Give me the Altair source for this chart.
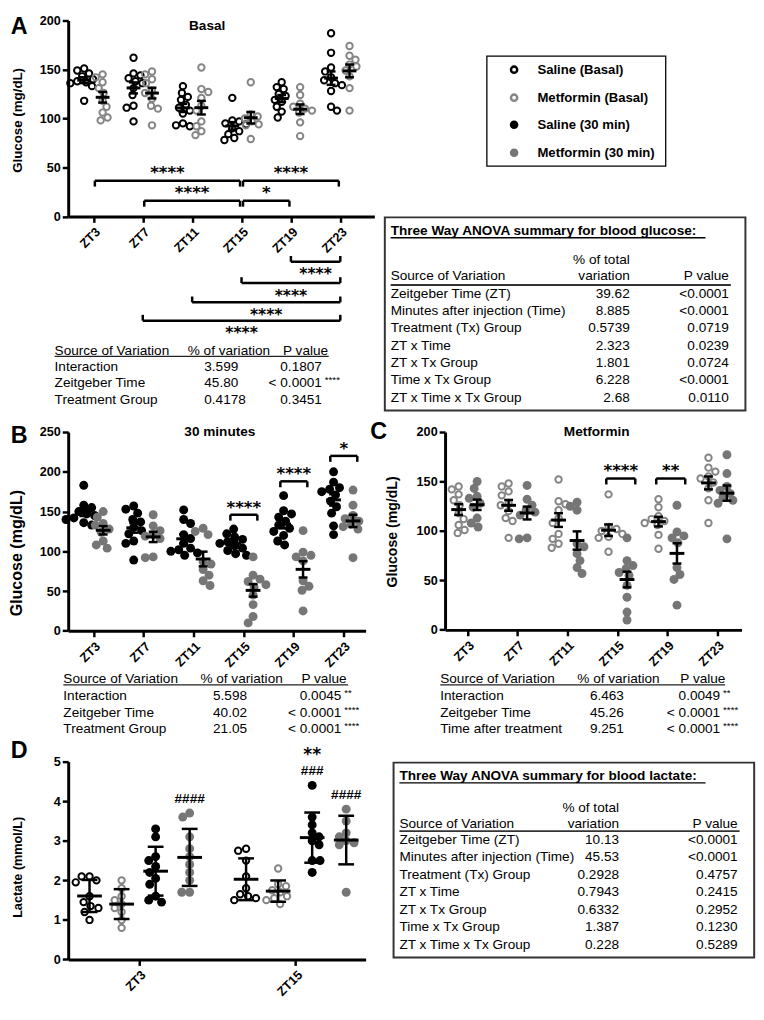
import math
import altair as alt
import pandas as pd

FONT = "Liberation Sans"
STAR_FONT = "DejaVu Sans"
BLACK = "#000000"
GRAY_FILL = "#767676"
GRAY_OPEN = "#858585"

# ---------------- categories ----------------
zt_glucose = ["ZT3", "ZT7", "ZT11", "ZT15", "ZT19", "ZT23"]
zt_lactate = ["ZT3", "ZT15"]
groups = ["Saline (Basal)", "Metformin (Basal)", "Saline (30 min)", "Metformin (30 min)"]
group_colors = [BLACK, GRAY_OPEN, BLACK, GRAY_FILL]

# ---------------- blood glucose (mg/dL), one list per ZT ----------------
glucose_saline_basal = [
    [151, 149, 146, 143, 140, 138, 137, 136, 133, 118],
    [162, 146, 144, 141, 138, 136, 131, 124, 113, 111, 97],
    [133, 126, 122, 119, 114, 111, 108, 105, 95, 93, 92],
    [121, 98, 97, 95, 94, 90, 87, 84, 80, 78],
    [137, 132, 130, 125, 123, 119, 117, 112, 107, 101],
    [187, 167, 152, 148, 142, 139, 136, 134, 128, 112, 108],
]
glucose_metformin_basal = [
    [145, 142, 137, 131, 126, 118, 112, 106, 101, 98],
    [148, 145, 140, 136, 128, 126, 120, 113, 110, 93],
    [152, 130, 127, 121, 113, 108, 97, 92, 87, 83],
    [137, 104, 102, 100, 97, 94, 93, 79],
    [132, 124, 115, 112, 110, 108, 106, 96, 82],
    [174, 164, 160, 155, 153, 149, 143, 131, 108],
]
glucose_saline_30 = [
    [183, 158, 155, 150, 147, 145, 142, 140, 136, 133],
    [157, 153, 148, 140, 137, 130, 126, 122, 113, 110, 89],
    [152, 140, 135, 121, 116, 110, 104, 102, 100, 98, 95],
    [128, 122, 118, 115, 112, 110, 107, 104, 101, 97, 95],
    [170, 151, 147, 143, 138, 133, 129, 125, 120, 113, 108],
    [200, 187, 180, 178, 175, 171, 163, 156, 148, 132, 121],
]
glucose_metformin_30 = [
    [150, 143, 135, 133, 128, 124, 113, 108, 104],
    [146, 132, 126, 121, 119, 116, 93, 92],
    [129, 125, 121, 87, 84, 77, 70, 63, 57],
    [93, 70, 65, 62, 58, 55, 45, 33, 18, 10],
    [126, 99, 95, 93, 88, 63, 56, 51, 25],
    [177, 158, 145, 141, 138, 134, 131, 128, 92],
]

# ---------------- blood lactate (mmol/L), ZT3 and ZT15 ----------------
lactate_saline_basal = [
    [2.1, 2.1, 2.0, 1.95, 1.6, 1.45, 1.35, 1.3, 1.2, 1.0],
    [2.8, 2.75, 2.5, 2.1, 1.8, 1.65, 1.6, 1.55, 1.5],
]
lactate_metformin_basal = [
    [2.0, 1.8, 1.6, 1.5, 1.4, 1.3, 1.2, 1.0, 0.8],
    [2.3, 1.9, 1.85, 1.75, 1.7, 1.6, 1.55, 1.5, 1.4],
]
lactate_saline_30 = [
    [3.3, 3.1, 2.6, 2.5, 2.35, 2.2, 2.05, 1.9, 1.6, 1.5, 1.45],
    [4.4, 3.6, 3.4, 3.2, 3.1, 3.0, 2.9, 2.5, 2.5, 2.2],
]
lactate_metformin_30 = [
    [3.7, 3.6, 3.1, 2.8, 2.6, 2.4, 2.2, 2.0, 1.7, 1.7],
    [3.8, 3.5, 3.2, 3.1, 3.0, 2.95, 2.9, 1.7],
]

# ---------------- significance annotations ----------------
sig_basal_within = [("ZT3", "ZT15", 36.5, "****"), ("ZT15", "ZT23", 36.5, "****"),
                    ("ZT7", "ZT15", 16, "****"), ("ZT15", "ZT19", 16, "*")]
sig_basal_vs_zt23 = [("ZT19", "****"), ("ZT15", "****"), ("ZT11", "****"), ("ZT7", "****")]
sig_30min = [("ZT15", 146, "****"), ("ZT19", 188, "****"), ("ZT23", 220, "*")]
sig_metformin = [("ZT15", 153, "****"), ("ZT19", 153, "**")]
sig_lactate = [("ZT3", "Metformin (30 min)", "####"), ("ZT15", "Saline (30 min)", "###"),
               ("ZT15", "Saline (30 min)", "**"), ("ZT15", "Metformin (30 min)", "####")]

# ---------------- ANOVA tables ----------------
basal_src = ["Interaction", "Zeitgeber Time", "Treatment Group"]
basal_pct = ["3.599", "45.80", "0.4178"]
basal_p = ["0.1807", "< 0.0001", "0.3451"]
basal_sig = ["", "****", ""]
min30_src = ["Interaction", "Zeitgeber Time", "Treatment Group"]
min30_pct = ["5.598", "40.02", "21.05"]
min30_p = ["0.0045", "< 0.0001", "< 0.0001"]
min30_sig = ["**", "****", "****"]
metf_src = ["Interaction", "Zeitgeber Time", "Time after treatment"]
metf_pct = ["6.463", "45.26", "9.251"]
metf_p = ["0.0049", "< 0.0001", "< 0.0001"]
metf_sig = ["**", "****", "****"]
three_way_src = ["Zeitgeber Time (ZT)", "Minutes after injection (Time)", "Treatment (Tx) Group",
                 "ZT x Time", "ZT x Tx Group", "Time x Tx Group", "ZT x Time x Tx Group"]
glucose3_pct = ["39.62", "8.885", "0.5739", "2.323", "1.801", "6.228", "2.68"]
glucose3_p = ["<0.0001", "<0.0001", "0.0719", "0.0239", "0.0724", "<0.0001", "0.0110"]
lactate3_pct = ["10.13", "45.53", "0.2928", "0.7943", "0.6332", "1.387", "0.228"]
lactate3_p = ["<0.0001", "<0.0001", "0.4757", "0.2415", "0.2952", "0.1230", "0.5289"]

# ---------------- layout (reference-image pixel coordinates, shrunk to fit the page) ----------------
SX, SY = 0.985, 0.978          # whole figure is compressed slightly so it fits the page
FS = 0.985                     # font scale
COLGAP, ROWGAP = 72, 135
PANEL = {
    "A": dict(left=62, top=6, W=315, H=203, xdom=[-0.51, 5.69], ydom=[0, 200]),
    "B": dict(left=62, top=432, W=306, H=206, xdom=[-0.506, 5.447], ydom=[0, 250]),
    "C": dict(left=440, top=432, W=305, H=205, xdom=[-0.447, 5.487], ydom=[0, 200]),
    "D": dict(left=62, top=773, W=306, H=205, xdom=[-0.453, 1.447], ydom=[0, 5]),
}
PANEL["R1"] = dict(left=62 + 315 + COLGAP, top=6, W=300, H=291)
PANEL["R3"] = dict(left=62 + 306 + COLGAP, top=773, W=300, H=205)


def f(s):
    return round(s * FS, 2)


def ax_scale(p):
    return alt.Scale(domain=[p["left"], p["left"] + 1000], range=[0, 1000 * SX])


def ay_scale(p):
    return alt.Scale(domain=[p["top"], p["top"] + 1000], range=[0, 1000 * SY])


def texts(p, rows, align="left", size=14, weight="normal", font=FONT, dy=0, color=BLACK):
    df = pd.DataFrame(rows, columns=["px", "py", "text"])
    return alt.Chart(df).mark_text(align=align, baseline="middle", font=font, fontSize=f(size),
                                   fontWeight=weight, color=color, dy=dy).encode(
        x=alt.X("px:Q", scale=ax_scale(p), axis=None),
        y=alt.Y("py:Q", scale=ay_scale(p), axis=None),
        text="text:N")


def hrules(p, rows, width=1.0, color=BLACK):
    df = pd.DataFrame(rows, columns=["px", "px2", "py"])
    return alt.Chart(df).mark_rule(color=color, strokeWidth=width).encode(
        x=alt.X("px:Q", scale=ax_scale(p), axis=None), x2="px2:Q",
        y=alt.Y("py:Q", scale=ay_scale(p), axis=None))


def box(p, x1, x2, y1, y2, width, color):
    df = pd.DataFrame([dict(px=x1, px2=x2, py=y1, py2=y2)])
    return alt.Chart(df).mark_rect(fillOpacity=0, stroke=color, strokeWidth=width).encode(
        x=alt.X("px:Q", scale=ax_scale(p), axis=None), x2="px2:Q",
        y=alt.Y("py:Q", scale=ay_scale(p), axis=None), y2="py2:Q")


def swarm(vals, ppy, diam, step=1.0):
    order = sorted(range(len(vals)), key=lambda k: -vals[k])
    placed, res = [], [0.0] * len(vals)
    for n, k in enumerate(order):
        y = vals[k] * ppy
        sgn = 1 if n % 2 == 0 else -1
        j = 0
        while True:
            if j == 0:
                c = 0.0
            else:
                mag = ((j + 1) // 2) * step
                c = mag * sgn if j % 2 == 1 else -mag * sgn
            if all((c - px) ** 2 + (y - py) ** 2 >= diam ** 2 for px, py in placed):
                break
            j += 1
        placed.append((c, y))
        res[k] = c
    return res


def mean_err(vals, kind):
    n = len(vals)
    m = sum(vals) / n
    sd = math.sqrt(sum((v - m) ** 2 for v in vals) / (n - 1))
    return m, (sd if kind == "sd" else sd / math.sqrt(n))


def color_scale():
    return alt.Scale(domain=groups, range=group_colors)


def xaxis_zt(labels):
    expr = "[" + ",".join("'" + l + "'" for l in labels) + "][datum.value]"
    return alt.Axis(values=list(range(len(labels))), labelExpr=expr, labelAngle=315,
                    labelAlign="right", labelBaseline="top", labelFont=FONT, labelFontSize=f(13),
                    labelFontWeight="bold", labelColor=BLACK, labelPadding=3, labelOverlap=False,
                    labelFlush=False, tickSize=6, tickWidth=2.5, tickColor=BLACK,
                    domainColor=BLACK, domainWidth=3, grid=False, title=None)


def yaxis(vals, title, tx, ty, tsize):
    return alt.Axis(values=vals, title=title, titleX=tx * SX, titleY=ty * SY, titleAngle=270,
                    titleAlign="center", titleBaseline="bottom", titleFont=FONT,
                    titleFontSize=f(tsize), titleFontWeight="bold", titleColor=BLACK,
                    labelFont=FONT, labelFontSize=f(13), labelFontWeight="bold", labelColor=BLACK,
                    labelPadding=2, labelOverlap=False, labelFlush=False, tickSize=6,
                    tickWidth=2.5, tickColor=BLACK, domainColor=BLACK, domainWidth=3, grid=False)


def data_panel(key, series, xlabels, yvals, ytitle, tx, ty, tsize, diam, kind, mean_hw, cap_hw,
               open_size=42, fill_size=82):
    p = PANEL[key]
    W, H = p["W"] * SX, p["H"] * SY
    ppx = W / (p["xdom"][1] - p["xdom"][0])
    ppy = H / (p["ydom"][1] - p["ydom"][0])
    pts_open, pts_fill, means, caps, centers = [], [], [], [], {}
    for grp, lists, off, is_open in series:
        for i, vals in enumerate(lists):
            cx = i + off * SX / ppx
            centers[(xlabels[i], grp)] = (cx, max(vals))
            for v, o in zip(vals, swarm(vals, ppy, diam)):
                (pts_open if is_open else pts_fill).append(dict(x=cx + o / ppx, y=v, grp=grp))
            m, e = mean_err(vals, kind)
            means.append(dict(x=cx, xl=cx - mean_hw / ppx, xr=cx + mean_hw / ppx, m=m,
                              lo=m - e, hi=m + e))
            for yy in (m - e, m + e):
                caps.append(dict(xl=cx - cap_hw / ppx, xr=cx + cap_hw / ppx, y=yy))
    xsc = alt.Scale(domain=p["xdom"], nice=False, zero=False)
    ysc = alt.Scale(domain=p["ydom"], nice=False, zero=False)
    layers = []
    if pts_open:
        layers.append(alt.Chart(pd.DataFrame(pts_open)).mark_point(
            shape="circle", filled=False, strokeWidth=2, opacity=1, size=open_size).encode(
            x=alt.X("x:Q", scale=xsc, axis=None), y=alt.Y("y:Q", scale=ysc, axis=None),
            color=alt.Color("grp:N", scale=color_scale(), legend=None)))
    if pts_fill:
        layers.append(alt.Chart(pd.DataFrame(pts_fill)).mark_circle(
            opacity=1, size=fill_size).encode(
            x=alt.X("x:Q", scale=xsc, axis=None), y=alt.Y("y:Q", scale=ysc, axis=None),
            color=alt.Color("grp:N", scale=color_scale(), legend=None)))
    mdf = pd.DataFrame(means)
    layers.append(alt.Chart(mdf).mark_rule(color=BLACK, strokeWidth=3).encode(
        x=alt.X("xl:Q", scale=xsc, axis=xaxis_zt(xlabels)), x2="xr:Q",
        y=alt.Y("m:Q", scale=ysc, axis=yaxis(yvals, ytitle, tx, ty, tsize))))
    layers.append(alt.Chart(mdf).mark_rule(color=BLACK, strokeWidth=2.5).encode(
        x=alt.X("x:Q", scale=xsc, axis=None),
        y=alt.Y("lo:Q", scale=ysc, axis=None), y2="hi:Q"))
    layers.append(alt.Chart(pd.DataFrame(caps)).mark_rule(color=BLACK, strokeWidth=2.5).encode(
        x=alt.X("xl:Q", scale=xsc, axis=None), x2="xr:Q",
        y=alt.Y("y:Q", scale=ysc, axis=None)))
    return dict(p=p, W=W, H=H, layers=layers, xsc=xsc, ysc=ysc, ppx=ppx, ppy=ppy, centers=centers)


def brackets(P, rows, tick_px=6, star_px=12, star_size=17):
    """rows: (x_from, x_to, level in data units, label); positive tick_px -> ends point down."""
    xsc, ysc, ppy = P["xsc"], P["ysc"], P["ppy"]
    h = pd.DataFrame([dict(a=a, b=b, y=lv) for a, b, lv, _ in rows])
    e = pd.DataFrame([dict(x=xx, y=lv, y2=lv - tick_px / ppy) for a, b, lv, _ in rows for xx in (a, b)])
    t = pd.DataFrame([dict(x=(a + b) / 2, y=lv + star_px / ppy, t=lab) for a, b, lv, lab in rows])
    return [
        alt.Chart(h).mark_rule(color=BLACK, strokeWidth=2.5).encode(
            x=alt.X("a:Q", scale=xsc, axis=None), x2="b:Q", y=alt.Y("y:Q", scale=ysc, axis=None)),
        alt.Chart(e).mark_rule(color=BLACK, strokeWidth=2.5).encode(
            x=alt.X("x:Q", scale=xsc, axis=None), y=alt.Y("y:Q", scale=ysc, axis=None), y2="y2:Q"),
        alt.Chart(t).mark_text(font=STAR_FONT, fontSize=f(star_size), fontWeight="bold", color=BLACK,
                               baseline="middle", dy=5).encode(
            x=alt.X("x:Q", scale=xsc, axis=None), y=alt.Y("y:Q", scale=ysc, axis=None), text="t:N"),
    ]


def small_table(p, src, pct, pv, sig, L):
    yr = [L["y0"] + k * L["dy"] for k in range(len(src))]
    out = [
        texts(p, [(L["c1"], L["yh"], "Source of Variation"), (L["hpct"], L["yh"], "% of variation"),
                  (L["hp"], L["yh"], "P value")]),
        hrules(p, [(L["c1"], L["ul"], L["yh"] + 6)], width=1.2, color="#222222"),
        texts(p, [(L["c1"], y, s) for s, y in zip(src, yr)]),
        texts(p, [(L["c2"], y, s) for s, y in zip(pct, yr)]),
        texts(p, [(L["c3"], y, s) for s, y in zip(pv, yr)], align="right"),
    ]
    srows = [(L["c3"] + 3, y, s) for s, y in zip(sig, yr) if s]
    if srows:
        out.append(texts(p, srows, size=10, dy=-3))
    return out


def big_table(p, title, src, pct, pv, L):
    yr = [L["y0"] + k * L["dy"] for k in range(len(src))]
    x0, c2, c3 = L["x0"], L["c2"], L["c3"]
    return [
        box(p, L["box"][0], L["box"][1], L["box"][2], L["box"][3], 2, "#333333"),
        texts(p, [(x0, L["yt"], title)], weight="bold"),
        hrules(p, [(x0, L["ul"], L["yt"] + 7)], width=1.5),
        texts(p, [(c2, L["yh1"], "% of total"), (c2, L["yh2"], "variation"),
                  (c3, L["yh2"], "P value")], align="right"),
        texts(p, [(x0, L["yh2"], "Source of Variation")]),
        hrules(p, [(x0, c3 + 2, L["yr"])], width=2, color="#333333"),
        texts(p, [(x0, y, s) for s, y in zip(src, yr)]),
        texts(p, [(c2, y, s) for s, y in zip(pct, yr)], align="right"),
        texts(p, [(c3, y, s) for s, y in zip(pv, yr)], align="right"),
    ]


def finish(p, layers):
    return alt.layer(*layers).resolve_scale(x="independent", y="independent").properties(
        width=round(p["W"] * SX, 2), height=round(p["H"] * SY, 2))


zi = {z: i for i, z in enumerate(zt_glucose)}

# ---------------- Panel A ----------------
PA = data_panel("A", [("Saline (Basal)", glucose_saline_basal, -9.5, True),
                      ("Metformin (Basal)", glucose_metformin_basal, 9.5, True)],
                zt_glucose, [0, 50, 100, 150, 200], "Glucose (mg/dL)", -45, 103, 13.7,
                7, "sem", 7, 4.5)
pA = PA["p"]
layersA = PA["layers"]
layersA += brackets(PA, [(zi[a] + 0.03, zi[b] - 0.03, lv, lab) for a, b, lv, lab in sig_basal_within],
                    tick_px=6, star_px=13)
lower_levels = [256, 278, 298, 317]
lb = pd.DataFrame([dict(a=zi[a], b=zi["ZT23"], y=y) for (a, _), y in zip(sig_basal_vs_zt23, lower_levels)])
le = pd.DataFrame([dict(x=xx, y=y, y2=y - 6) for (a, _), y in zip(sig_basal_vs_zt23, lower_levels)
                   for xx in (zi[a], zi["ZT23"])])
lt = pd.DataFrame([dict(x=(zi[a] + zi["ZT23"]) / 2, y=y + 11, t=lab)
                   for (a, lab), y in zip(sig_basal_vs_zt23, lower_levels)])
layersA += [
    alt.Chart(lb).mark_rule(color=BLACK, strokeWidth=2.5).encode(
        x=alt.X("a:Q", scale=PA["xsc"], axis=None), x2="b:Q",
        y=alt.Y("y:Q", scale=ay_scale(pA), axis=None)),
    alt.Chart(le).mark_rule(color=BLACK, strokeWidth=2.5).encode(
        x=alt.X("x:Q", scale=PA["xsc"], axis=None),
        y=alt.Y("y:Q", scale=ay_scale(pA), axis=None), y2="y2:Q"),
    alt.Chart(lt).mark_text(font=STAR_FONT, fontSize=f(16), fontWeight="bold", color=BLACK,
                            baseline="middle", dy=2).encode(
        x=alt.X("x:Q", scale=PA["xsc"], axis=None),
        y=alt.Y("y:Q", scale=ay_scale(pA), axis=None), text="t:N"),
]
layersA.append(texts(pA, [(205, 12, "Basal")], align="center", weight="bold"))
layersA.append(texts(pA, [(3, 13, "A")], size=24, weight="bold"))
layersA += small_table(pA, basal_src, basal_pct, basal_p, basal_sig,
                       dict(c1=48, hpct=185, hp=283, c2=202, c3=323, yh=348, y0=365, dy=17, ul=330))
chartA = finish(pA, layersA)

# ---------------- Right of A: legend + 3-way ANOVA (glucose) ----------------
pR1 = PANEL["R1"]
leg_y = [57, 86, 114, 143]
leg_open = pd.DataFrame([dict(px=520, py=y, grp=g) for g, y in zip(groups[:2], leg_y[:2])])
leg_fill = pd.DataFrame([dict(px=520, py=y, grp=g) for g, y in zip(groups[2:], leg_y[2:])])
layersR1 = [
    box(pR1, 492, 676, 43, 157, 1.3, BLACK),
    alt.Chart(leg_open).mark_point(shape="circle", filled=False, strokeWidth=2.5, opacity=1,
                                   size=40).encode(
        x=alt.X("px:Q", scale=ax_scale(pR1), axis=None), y=alt.Y("py:Q", scale=ay_scale(pR1), axis=None),
        color=alt.Color("grp:N", scale=color_scale(), legend=None)),
    alt.Chart(leg_fill).mark_circle(opacity=1, size=75).encode(
        x=alt.X("px:Q", scale=ax_scale(pR1), axis=None), y=alt.Y("py:Q", scale=ay_scale(pR1), axis=None),
        color=alt.Color("grp:N", scale=color_scale(), legend=None)),
    texts(pR1, [(544, y, g) for g, y in zip(groups, leg_y)], size=13.5, weight="bold"),
]
layersR1 += big_table(pR1, "Three Way ANOVA summary for blood glucose:", three_way_src,
                      glucose3_pct, glucose3_p,
                      dict(box=(387, 758, 210, 410), x0=393, yt=224, ul=717, c2=639, c3=741,
                           yh1=254, yh2=271, yr=280, y0=289, dy=18))
chartR1 = finish(pR1, layersR1)

# ---------------- Panel B ----------------
PB = data_panel("B", [("Saline (30 min)", glucose_saline_30, -10, False),
                      ("Metformin (30 min)", glucose_metformin_30, 10, False)],
                zt_glucose, [0, 50, 100, 150, 200, 250], "Glucose (mg/dL)", -45, 125, 16.5,
                8, "sem", 7.5, 4.5)
pB = PB["p"]
layersB = PB["layers"]
layersB += brackets(PB, [(zi[z] - 0.26, zi[z] + 0.28, lv, lab) for z, lv, lab in sig_30min],
                    tick_px=6, star_px=12)
layersB.append(texts(pB, [(218, 432, "30 minutes")], align="center", weight="bold"))
layersB.append(texts(pB, [(3, 436, "B")], size=24, weight="bold"))
layersB += small_table(pB, min30_src, min30_pct, min30_p, min30_sig,
                       dict(c1=57, hpct=198, hp=302, c2=211, c3=343, yh=688, y0=706, dy=17, ul=350))
chartB = finish(pB, layersB)

# ---------------- Panel C ----------------
PC = data_panel("C", [("Metformin (Basal)", glucose_metformin_basal, -9, True),
                      ("Metformin (30 min)", glucose_metformin_30, 10, False)],
                zt_glucose, [0, 50, 100, 150, 200], "Glucose (mg/dL)", -47, 103, 14.5,
                7.5, "sem", 7.5, 4.5)
pC = PC["p"]
layersC = PC["layers"]
layersC += brackets(PC, [(zi[z] - 0.22, zi[z] + 0.36, lv, lab) for z, lv, lab in sig_metformin],
                    tick_px=6, star_px=13)
layersC.append(texts(pC, [(596, 432, "Metformin")], align="center", weight="bold"))
layersC.append(texts(pC, [(363, 432, "C")], size=24, weight="bold"))
layersC += small_table(pC, metf_src, metf_pct, metf_p, metf_sig,
                       dict(c1=435, hpct=576, hp=682, c2=589, c3=723, yh=688, y0=706, dy=17, ul=728))
chartC = finish(pC, layersC)

# ---------------- Panel D ----------------
PD = data_panel("D", [("Saline (Basal)", lactate_saline_basal, -51, True),
                      ("Metformin (Basal)", lactate_metformin_basal, -18, True),
                      ("Saline (30 min)", lactate_saline_30, 17, False),
                      ("Metformin (30 min)", lactate_metformin_30, 52, False)],
                zt_lactate, [0, 1, 2, 3, 4, 5], "Lactate (mmol/L)", -45, 109, 13,
                8, "sd", 12.5, 8)
pD = PD["p"]
layersD = PD["layers"]
stack = {}
hash_rows, star_rows = [], []
for z, g, lab in sig_lactate:
    cx, top = PD["centers"][(z, g)]
    k = stack.get((z, g), 0)
    stack[(z, g)] = k + 1
    yv = top + (16 + 19 * k) * SY / PD["ppy"]
    (star_rows if "*" in lab else hash_rows).append(dict(x=cx, y=yv, t=lab))
layersD.append(alt.Chart(pd.DataFrame(hash_rows)).mark_text(
    font=FONT, fontSize=f(14), fontWeight="bold", color=BLACK, baseline="middle", dy=1).encode(
    x=alt.X("x:Q", scale=PD["xsc"], axis=None), y=alt.Y("y:Q", scale=PD["ysc"], axis=None), text="t:N"))
layersD.append(alt.Chart(pd.DataFrame(star_rows)).mark_text(
    font=STAR_FONT, fontSize=f(17.5), fontWeight="bold", color=BLACK, baseline="middle", dy=4).encode(
    x=alt.X("x:Q", scale=PD["xsc"], axis=None), y=alt.Y("y:Q", scale=PD["ysc"], axis=None), text="t:N"))
layersD.append(texts(pD, [(3, 762, "D")], size=24, weight="bold"))
chartD = finish(pD, layersD)

# ---------------- Right of D: 3-way ANOVA (lactate) ----------------
pR3 = PANEL["R3"]
layersR3 = big_table(pR3, "Three Way ANOVA summary for blood lactate:", three_way_src,
                     lactate3_pct, lactate3_p,
                     dict(box=(387, 758, 774, 976), x0=393, yt=788, ul=708, c2=619, c3=741,
                          yh1=821, yh2=838, yr=845, y0=854, dy=18.1))
chartR3 = finish(pR3, layersR3)

chart = alt.concat(chartA, chartR1, chartB, chartC, chartD, chartR3, columns=2,
                   spacing={"row": round(ROWGAP * SY, 2), "column": round(COLGAP * SX, 2)},
                   bounds="flush", align={"row": "each", "column": "none"}).properties(
    padding=0, background="white").configure_view(strokeWidth=0)

chart.save("out.html", embed_options={"renderer": "svg", "actions": False})
